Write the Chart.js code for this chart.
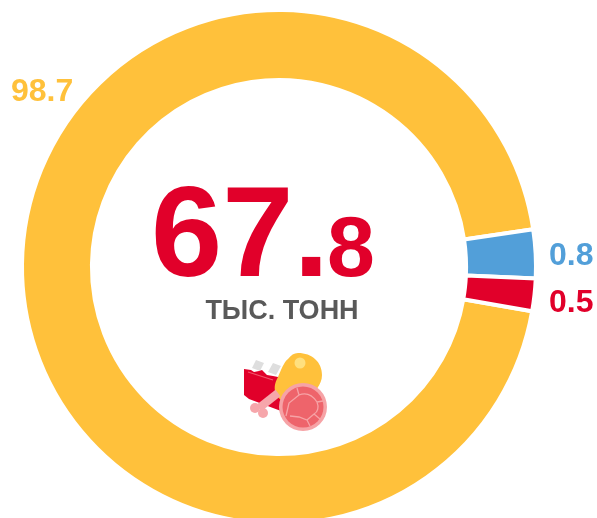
<!DOCTYPE html>
<html><head><meta charset="utf-8">
<style>
html,body{margin:0;padding:0;background:#fff;overflow:hidden;width:597px;height:518px}
#wrap{position:absolute;left:0;top:0;width:597px;height:534px}
#icon{position:absolute;left:240px;top:350px;width:90px;height:85px}
</style>
<script src="https://cdn.jsdelivr.net/npm/chart.js@4/dist/chart.umd.js"></script>
</head><body>
<div id="wrap"><canvas id="c" width="597" height="534"></canvas></div>
<svg id="icon" viewBox="240 350 90 85" xmlns="http://www.w3.org/2000/svg">
<path d="M252 368l4-8 8 3-4 8zM268 372l5-9 8 3-5 9z" fill="#dedede"/>
<path d="M244 369l7 1 3 2 5-1 3-1 5 5 6 1 5 1 6 4 2 25-5 5-32-12-5-4z" fill="#e1002a"/>
<path d="M248 372l25 8" stroke="#f0566c" stroke-width="1.2" fill="none"/>
<path d="M298 353c14 0 24 9 24 22 0 10-8 18-14 22l-14 8c-8 2-17-7-19-14-1-6 1-10 3-14 3-7 6-15 10-18 3-4 6-6 10-6z" fill="#ffc13b"/>
<circle cx="300" cy="363" r="5.5" fill="#ffe07e"/>
<path d="M259 408l19-15" stroke="#f6a6ab" stroke-width="8" fill="none"/>
<circle cx="255" cy="408" r="5" fill="#f6a6ab"/><circle cx="263" cy="413" r="5" fill="#f6a6ab"/>
<circle cx="303" cy="407" r="24" fill="#f6a3a6"/>
<circle cx="303" cy="407" r="20.5" fill="#ee646b"/>
<path d="M297 388l2 7-10 8-3 13M299 395c8-3 14 1 18 7 2 5 1 10-3 12l-7 6-8-3-9-1M317 402l6-1M314 414l6 5M307 420l3 6" stroke="#f6a3a6" stroke-width="1.3" fill="none"/>
</svg>
<script>
const categories = ['Жёлтый', 'Синий', 'Красный'];
const seriesLabels = ['98.7', '0.8', '0.5'];
const sliceShares = [94.91, 3.06, 2.03];
const sliceColors = ['#FFC13B', '#529FD9', '#E1002A'];
const centerWhole = '67.';
const centerFraction = '8';
const centerUnit = 'ТЫС. ТОНН';
const FONT = '"Liberation Sans", Arial, sans-serif';

const textPlugin = {
  id: 'texts',
  afterDraw(chart) {
    const ctx = chart.ctx;
    const arc = chart.getDatasetMeta(0).data[0];
    const cx = arc.x, cy = arc.y;
    ctx.save();
    ctx.textBaseline = 'alphabetic';
    ctx.textAlign = 'left';
    ctx.fillStyle = sliceColors[2];
    ctx.font = 'bold 128px ' + FONT;
    ctx.fillText(centerWhole, cx - 128, cy + 9);
    ctx.font = 'bold 86px ' + FONT;
    ctx.fillText(centerFraction, cx + 48, cy + 9);
    ctx.fillStyle = '#595959';
    ctx.font = 'bold 27px ' + FONT;
    ctx.textAlign = 'center';
    ctx.fillText(centerUnit, cx + 3, cy + 52);
    ctx.font = 'bold 32px ' + FONT;
    ctx.textAlign = 'left';
    ctx.fillStyle = sliceColors[0];
    ctx.fillText(seriesLabels[0], 11, 101);
    ctx.fillStyle = sliceColors[1];
    ctx.fillText(seriesLabels[1], 549, 265);
    ctx.fillStyle = sliceColors[2];
    ctx.fillText(seriesLabels[2], 549, 312);
    ctx.restore();
  }
};

new Chart(document.getElementById('c'), {
  type: 'doughnut',
  data: {
    labels: categories,
    datasets: [{
      data: sliceShares,
      backgroundColor: sliceColors,
      borderColor: '#fff',
      borderWidth: 4,
      borderAlign: 'center',
      hoverOffset: 0
    }]
  },
  options: {
    responsive: false,
    animation: false,
    cutout: '72.8%',
    rotation: 99.9,
    layout: { padding: { left: 20, right: 59, top: 8, bottom: 8 } },
    plugins: { legend: { display: false }, tooltip: { enabled: false } }
  },
  plugins: [textPlugin]
});
</script>
</body></html>
